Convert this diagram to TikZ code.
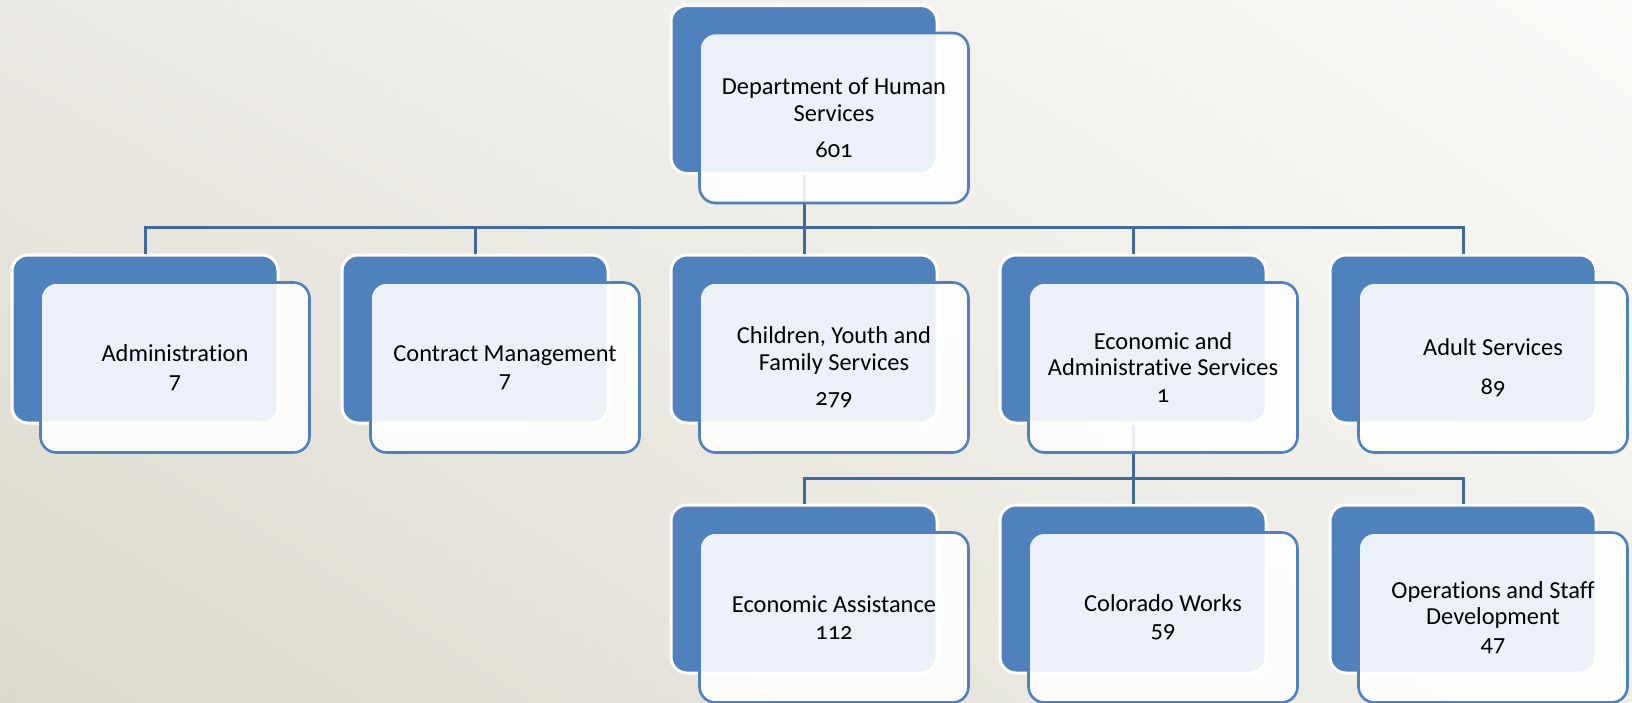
\documentclass[tikz,border=0pt]{standalone}
\usepackage{fontspec}
\setmainfont[Numbers=OldStyle, Ligatures=NoCommon]{Carlito}
\usetikzlibrary{shadings}
\definecolor{boxblue}{HTML}{4F81BD}
\definecolor{linkblue}{HTML}{41699A}
\definecolor{bgUL}{HTML}{EAE8E2}
\definecolor{bgLL}{HTML}{DCD9CC}
\definecolor{bgUR}{HTML}{FAFAF8}
\definecolor{bgLR}{HTML}{F0EFEA}

\begin{document}
\begin{tikzpicture}[x=0.5pt, y=-0.5pt,
  backbox/.style={draw=white, line width=1.5pt, fill=boxblue, rounded corners=8pt,
    minimum width=133pt, minimum height=84pt, inner sep=0pt},
  frontbox/.style={draw=boxblue, line width=1.3pt, fill=white, fill opacity=0.89,
    text opacity=1, rounded corners=8pt, minimum width=134.5pt, minimum height=85pt,
    inner sep=0pt, align=center, font=\fontsize{12.2}{13.2}\selectfont},
  link/.style={draw=linkblue, line width=1.5pt}]

\useasboundingbox (0pt,0pt) rectangle (816pt,-351pt);
\shade[upper left=bgUL, lower left=bgLL, upper right=bgUR, lower right=bgLR]
  (0pt,0pt) rectangle (816pt,-351pt);

% back boxes
\foreach \n/\x/\y in {dhs/804/89.5, adm/145/339, con/475/339, cyf/804/339,
                      eas/1133/339, adu/1463/339,
                      eca/804/589, cow/1133/589, osd/1463/589}
	{\node[backbox] (\n-b) at (\x,\y) {};};

% links
\coordinate (hub) at (804,227);
\coordinate (subhub) at (1133,478);
\draw[link] (dhs-b.south) -- (hub);
\foreach \n in {adm, con, cyf, eas, adu}
	{\draw[link] (hub) -| (\n-b.north);};
\draw[link] (eas-b.south) -- (subhub);
\foreach \n in {eca, cow, osd}
	{\draw[link] (subhub) -| (\n-b.north);};

% front boxes
\foreach \n/\txt in {dhs/{Department of Human\\Services\\[5pt]601},
                     adm/{Administration\\7},
                     con/{Contract Management\\7},
                     cyf/{Children, Youth and\\Family Services\\[4.5pt]279},
                     eas/{Economic and\\Administrative Services\\1},
                     adu/{Adult Services\\[6.5pt]89},
                     eca/{Economic Assistance\\112},
                     cow/{Colorado Works\\59},
                     osd/{Operations and Staff\\Development\\47}}
	{\node[frontbox] (\n-f) at ([shift={(30,28.5)}]\n-b.center) {\txt};};
\end{tikzpicture}
\end{document}
